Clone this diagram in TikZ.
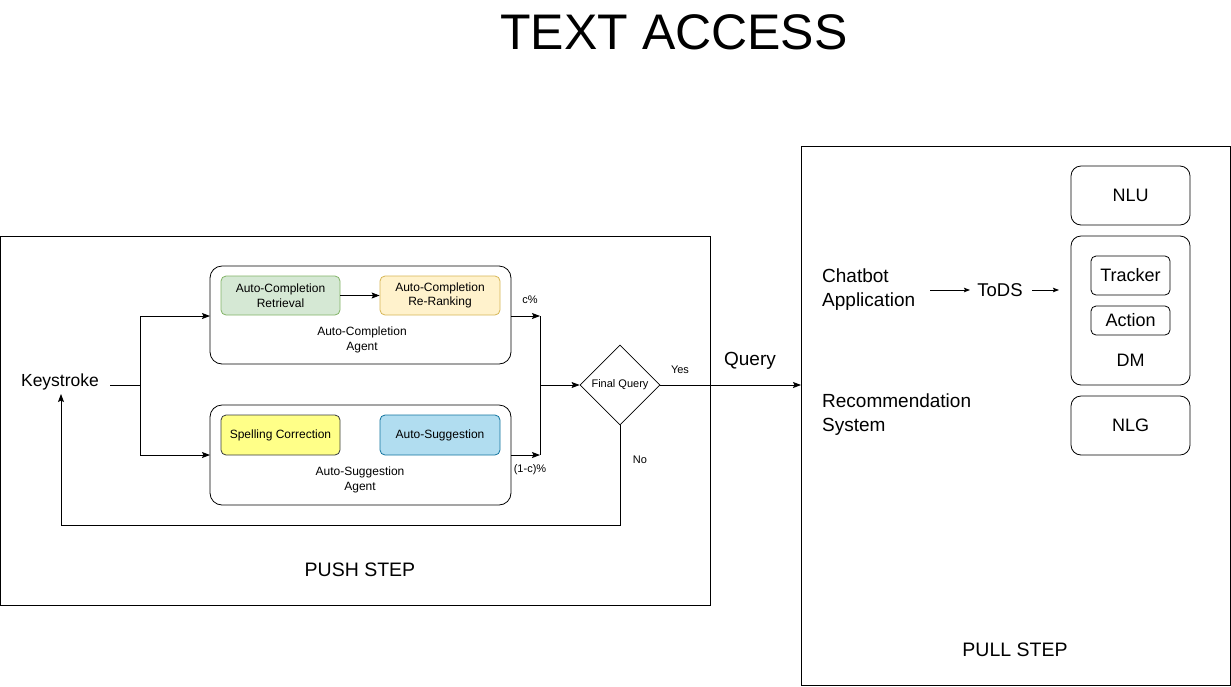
\documentclass[tikz,border=0pt]{standalone}
\usepackage{fontspec}
\setmainfont{Liberation Sans}
\usetikzlibrary{arrows.meta,shapes.geometric}
\definecolor{gfill}{HTML}{D5E8D4}\definecolor{gdraw}{HTML}{82B366}
\definecolor{yfill}{HTML}{FFF2CC}\definecolor{ydraw}{HTML}{D6B656}
\definecolor{sfill}{HTML}{FFFF88}\definecolor{sdraw}{HTML}{36393D}
\definecolor{bfill}{HTML}{B1DDF0}\definecolor{bdraw}{HTML}{10739E}
\tikzset{
  arr/.style={-{Stealth[length=8pt,width=6pt,inset=1.5pt]},line width=0.8pt},
  sarr/.style={-{Stealth[length=6pt,width=4.5pt,inset=1pt]},line width=0.8pt},
  ln/.style={line width=0.8pt},
  frame/.style={draw,line width=0.8pt},
  agent/.style={draw,line width=0.8pt,rounded corners=12pt},
  inner/.style={draw,line width=0.8pt,rounded corners=5pt,align=center,font=\fontsize{12}{14.5}\selectfont,inner sep=0pt},
  rbox/.style={draw,line width=0.8pt,rounded corners=10pt},
  txt/.style={align=center,inner sep=0pt},
}
\begin{document}
\begin{tikzpicture}[x=1pt,y=-1pt]
\useasboundingbox (0,0) rectangle (1231,686);
% title
\node[txt,font=\fontsize{50}{52}\selectfont] (title) at (674,32) {TEXT ACCESS};
% frames
\draw[frame] (0.5,236) rectangle (710,605);
\draw[frame] (801,146) rectangle (1230,685.5);
\node[txt,font=\fontsize{19.5}{22}\selectfont] (push) at (360,570) {PUSH STEP};
\node[txt,font=\fontsize{19.5}{22}\selectfont] (pull) at (1015,650) {PULL STEP};
% agents
\draw[agent] (210,266) rectangle (511,364);
\coordinate (acl) at (210,316); \coordinate (acr) at (511,316);
\draw[agent] (210,405) rectangle (511,505);
\coordinate (asl) at (210,455); \coordinate (asr) at (511,455);
\node[txt,font=\fontsize{12}{15}\selectfont] (aclab) at (362,340) {Auto-Completion\\Agent};
\node[txt,font=\fontsize{12}{15}\selectfont] (aslab) at (360,480) {Auto-Suggestion\\Agent};
\node[inner,fill=gfill,draw=gdraw,minimum width=119pt,minimum height=39pt] (acret) at (280.5,295.5) {Auto-Completion\\Retrieval};
\node[inner,fill=yfill,draw=ydraw,minimum width=120pt,minimum height=39pt] (acrr) at (440,295.5) {Auto-Completion\\Re-Ranking};
\node[inner,fill=sfill,draw=sdraw,minimum width=119pt,minimum height=40pt] (spell) at (280.5,435) {\raisebox{-2pt}{Spelling Correction}};
\node[inner,fill=bfill,draw=bdraw,minimum width=120pt,minimum height=40pt] (sugg) at (440,435) {\raisebox{2pt}{Auto-Suggestion}};
\draw[arr] (acret) -- (acrr);
% keystroke
\node[txt,font=\fontsize{17.5}{20}\selectfont] (key) at (60,382) {Keystroke};
\coordinate (ks) at (110,385);
\coordinate (split) at (140,385);
\draw[ln] (ks) -- (split);
\draw[arr] (split) |- (acl);
\draw[arr] (split) |- (asl);
% merge
\coordinate (mtop) at (540,316); \coordinate (mbot) at (540,455); \coordinate (mmid) at (540,385);
\draw[arr] (acr) -- (mtop);
\draw[arr] (asr) -- (mbot);
\draw[ln] (mtop) -- (mbot);
\node[txt,font=\fontsize{11}{13}\selectfont] (cp) at (530,300) {c\%};
\node[txt,font=\fontsize{11}{13}\selectfont] (ncp) at (530,470) {(1-c)\%};
% decision
\node[diamond,draw,line width=0.8pt,minimum width=80pt,minimum height=80pt,inner sep=0pt,font=\fontsize{11}{13}\selectfont] (fq) at (620,385) {Final Query};
\draw[arr] (mmid) -- (fq.west);
\coordinate (pullin) at (801,385);
\draw[arr] (fq.east) -- (pullin);
\node[txt,font=\fontsize{11}{13}\selectfont] (yes) at (680,370) {Yes};
\node[txt,font=\fontsize{19}{22}\selectfont] (query) at (750,361) {Query};
\node[txt,font=\fontsize{11}{13}\selectfont] (no) at (640,460) {No};
\coordinate (lb) at (620,525); \coordinate (ll) at (61,525); \coordinate (kin) at (61,394);
\draw[arr] (fq.south) -- (lb) -- (ll) -- (kin);
% pull step
\draw[rbox] (1071,166) rectangle (1190,225);
\node[txt,font=\fontsize{18}{21}\selectfont] (nlu) at (1130.5,195.5) {NLU};
\draw[rbox] (1071,236) rectangle (1190,385);
\node[txt,font=\fontsize{18}{21}\selectfont] (dm) at (1130.5,360) {DM};
\node[draw,line width=0.8pt,rounded corners=5pt,minimum width=79pt,minimum height=39pt,inner sep=0pt,font=\fontsize{18}{21}\selectfont] (tracker) at (1130.5,275.5) {Tracker};
\node[draw,line width=0.8pt,rounded corners=5pt,minimum width=79pt,minimum height=29pt,inner sep=0pt,font=\fontsize{18}{21}\selectfont] (action) at (1130.5,320.5) {Action};
\draw[rbox] (1071,396) rectangle (1190,455);
\node[txt,font=\fontsize{18}{21}\selectfont] (nlg) at (1130.5,425.5) {NLG};
\node[txt,align=left,anchor=west,font=\fontsize{19}{24}\selectfont] (chat) at (822,290) {Chatbot\\Application};
\node[txt,align=left,anchor=west,font=\fontsize{19}{24}\selectfont] (rec) at (822,415) {Recommendation\\System};
\node[txt,font=\fontsize{18.5}{21}\selectfont] (tods) at (1000,290) {ToDS};
\coordinate (a1) at (930,290); \coordinate (a1e) at (970,290);
\coordinate (a2) at (1032,290); \coordinate (a2e) at (1059,290);
\draw[sarr] (a1) -- (a1e);
\draw[sarr] (a2) -- (a2e);
\end{tikzpicture}
\end{document}
